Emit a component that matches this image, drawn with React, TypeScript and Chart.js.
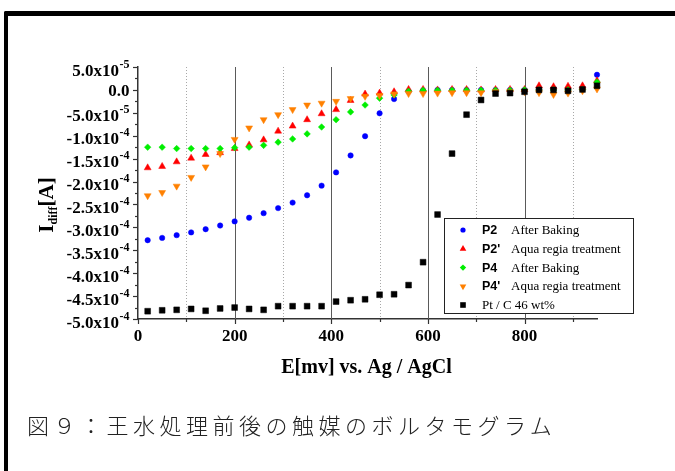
import React, { useEffect, useRef } from "react";
import { Chart, registerables } from "chart.js";

Chart.register(...registerables);

// ---- data (currents in units of 1e-4 A) ----
const UNIT = 1e-4;
const potentials = [20, 50, 80, 110, 140, 170, 200, 230, 260, 290, 320, 350, 380, 410, 440, 470, 500, 530, 560, 590, 620, 650, 680, 710, 740, 770, 800, 830, 860, 890, 920, 950];

const p2AfterBaking = [-3.28, -3.23, -3.17, -3.11, -3.04, -2.96, -2.87, -2.79, -2.69, -2.58, -2.46, -2.3, -2.09, -1.8, -1.43, -1.01, -0.51, -0.2, -0.03, -0.01, 0.0, 0.0, 0.0, 0.0, 0.0, 0.0, 0.0, 0.01, 0.02, 0.01, 0.02, 0.33];
const p2AquaRegia = [-1.7, -1.67, -1.57, -1.49, -1.41, -1.37, -1.28, -1.2, -1.09, -0.9, -0.79, -0.65, -0.52, -0.43, -0.23, -0.09, -0.07, -0.04, 0.01, 0.01, 0.0, 0.01, 0.01, 0.0, 0.01, 0.01, 0.01, 0.09, 0.07, 0.08, 0.09, 0.2];
const p4AfterBaking = [-1.25, -1.25, -1.28, -1.28, -1.28, -1.28, -1.26, -1.25, -1.21, -1.14, -1.07, -0.96, -0.81, -0.65, -0.48, -0.33, -0.18, -0.11, -0.03, -0.01, -0.01, -0.01, -0.01, -0.01, -0.01, -0.01, 0.0, 0.0, 0.0, 0.0, 0.01, 0.17];
const p4AquaRegia = [-2.31, -2.24, -2.1, -1.91, -1.68, -1.39, -1.08, -0.83, -0.65, -0.54, -0.43, -0.33, -0.29, -0.25, -0.19, -0.14, -0.12, -0.09, -0.08, -0.08, -0.07, -0.06, -0.06, -0.06, -0.04, -0.04, -0.04, -0.06, -0.1, -0.07, -0.02, 0.02];
const ptC46 = [-4.83, -4.81, -4.8, -4.78, -4.82, -4.77, -4.75, -4.78, -4.8, -4.72, -4.72, -4.72, -4.72, -4.62, -4.59, -4.57, -4.47, -4.46, -4.26, -3.76, -2.72, -1.39, -0.54, -0.22, -0.08, -0.07, -0.04, 0.0, 0.0, -0.02, 0.01, 0.09];

const legendNames = ["P2", "P2'", "P4", "P4'", ""];
const legendDescs = ["After Baking", "Aqua regia treatment", "After Baking", "Aqua regia treatment", "Pt / C 46 wt%"];

const xTickValues = [0, 100, 200, 300, 400, 500, 600, 700, 800, 900];
const xGridValues = [100, 200, 300, 400, 500, 600, 700, 800, 900];
const yTickValues = [5e-5, 0, -5e-5, -1e-4, -1.5e-4, -2e-4, -2.5e-4, -3e-4, -3.5e-4, -4e-4, -4.5e-4, -5e-4];
const yTickBase = ["5.0x10", "0.0", "-5.0x10", "-1.0x10", "-1.5x10", "-2.0x10", "-2.5x10", "-3.0x10", "-3.5x10", "-4.0x10", "-4.5x10", "-5.0x10"];
const yTickExp = ["-5", "", "-5", "-4", "-4", "-4", "-4", "-4", "-4", "-4", "-4", "-4"];

const xTitle = "E[mv] vs. Ag / AgCl";
const caption = "図９：王水処理前後の触媒のボルタモグラム";

const SERIF = "'Liberation Serif', 'Times New Roman', serif";
const SANS = "'Liberation Sans', Arial, sans-serif";

const seriesColors = ["#0000ff", "#ff0000", "#00ee00", "#ff8000", "#000000"];
const seriesStyles = ["circle", "triangle", "rectRot", "triangle", "rect"];

function toPoints(vals: number[]) {
  return potentials.map((p, i) => ({ x: p, y: vals[i] * UNIT }));
}

function drawMarker(ctx: CanvasRenderingContext2D, idx: number, x: number, y: number) {
  ctx.fillStyle = seriesColors[idx];
  ctx.beginPath();
  if (idx === 0) {
    ctx.arc(x, y, 2.6, 0, Math.PI * 2);
  } else if (idx === 1) {
    ctx.moveTo(x, y - 3.8);
    ctx.lineTo(x + 3.3, y + 2);
    ctx.lineTo(x - 3.3, y + 2);
  } else if (idx === 2) {
    ctx.moveTo(x, y - 3.2);
    ctx.lineTo(x + 3.2, y);
    ctx.lineTo(x, y + 3.2);
    ctx.lineTo(x - 3.2, y);
  } else if (idx === 3) {
    ctx.moveTo(x, y + 3.8);
    ctx.lineTo(x + 3.3, y - 2);
    ctx.lineTo(x - 3.3, y - 2);
  } else {
    ctx.rect(x - 2.8, y - 2.8, 5.6, 5.6);
  }
  ctx.closePath();
  ctx.fill();
}

const overlayPlugin = {
  id: "overlay",
  beforeDatasetsDraw(chart: any) {
    const { ctx, chartArea: a } = chart;
    const xs = chart.scales.x;
    const ys = chart.scales.y;
    ctx.save();
    // vertical grid lines
    for (const v of xGridValues) {
      const px = Math.round(xs.getPixelForValue(v)) + 0.5;
      const major = v % 200 === 0;
      ctx.beginPath();
      ctx.strokeStyle = major ? "#5a5a5a" : "#a8a8a8";
      ctx.lineWidth = 1;
      ctx.setLineDash(major ? [] : [1, 2]);
      ctx.moveTo(px, a.top);
      ctx.lineTo(px, a.bottom);
      ctx.stroke();
    }
    ctx.setLineDash([]);
    ctx.strokeStyle = "#333";
    ctx.lineWidth = 1.2;
    // x ticks
    for (const v of xTickValues) {
      const px = Math.round(xs.getPixelForValue(v)) + 0.5;
      const len = v % 200 === 0 ? 5 : 3;
      ctx.beginPath();
      ctx.moveTo(px, a.bottom);
      ctx.lineTo(px, a.bottom + len);
      ctx.stroke();
    }
    // y ticks (major + minor)
    for (let i = 0; i < yTickValues.length; i++) {
      const py = Math.round(ys.getPixelForValue(yTickValues[i])) + 0.5;
      ctx.beginPath();
      ctx.moveTo(a.left, py);
      ctx.lineTo(a.left - 5, py);
      ctx.stroke();
      if (i < yTickValues.length - 1) {
        const mid = (yTickValues[i] + yTickValues[i + 1]) / 2;
        const pm = Math.round(ys.getPixelForValue(mid)) + 0.5;
        ctx.beginPath();
        ctx.moveTo(a.left, pm);
        ctx.lineTo(a.left - 3, pm);
        ctx.stroke();
      }
    }
    ctx.restore();
  },
  afterDraw(chart: any) {
    const { ctx, chartArea: a } = chart;
    const ys = chart.scales.y;
    ctx.save();
    ctx.fillStyle = "#000";
    // y tick labels with superscript exponent
    const rightEdge = a.left - 8.5;
    ctx.textBaseline = "alphabetic";
    for (let i = 0; i < yTickValues.length; i++) {
      const py = ys.getPixelForValue(yTickValues[i]);
      const exp = yTickExp[i];
      ctx.font = `bold 12px ${SERIF}`;
      const ew = exp ? ctx.measureText(exp).width : 0;
      if (exp) {
        ctx.textAlign = "right";
        ctx.fillText(exp, rightEdge, py + 0.5);
      }
      ctx.font = `bold 17px ${SERIF}`;
      ctx.textAlign = "right";
      ctx.fillText(yTickBase[i], rightEdge - ew - (exp ? 0.5 : 0), py + (exp ? 8.6 : 5.8));
    }
    // y title (rotated) I_diff[A]
    ctx.save();
    ctx.translate(53, 205);
    ctx.rotate(-Math.PI / 2);
    ctx.font = `bold 21px ${SERIF}`;
    const wI = ctx.measureText("I").width;
    const wA = ctx.measureText("[A]").width;
    ctx.font = `bold 12px ${SERIF}`;
    const wd = ctx.measureText("diff").width;
    const total = wI + wd + wA;
    let cx = -total / 2;
    ctx.textAlign = "left";
    ctx.font = `bold 21px ${SERIF}`;
    ctx.fillText("I", cx, 0);
    cx += wI;
    ctx.font = `bold 12px ${SERIF}`;
    ctx.fillText("diff", cx, 4);
    cx += wd;
    ctx.font = `bold 21px ${SERIF}`;
    ctx.fillText("[A]", cx, 0);
    ctx.restore();
    // x title
    ctx.font = `bold 20px ${SERIF}`;
    ctx.textAlign = "center";
    ctx.fillText(xTitle, (a.left + a.right) / 2 - 1, 373);
    // legend
    const bx = 444.5, by = 218.5, bw = 189, bh = 95;
    ctx.fillStyle = "#fff";
    ctx.fillRect(bx, by, bw, bh);
    ctx.strokeStyle = "#222";
    ctx.lineWidth = 1;
    ctx.strokeRect(bx, by, bw, bh);
    const rowY = [230, 248.8, 267.6, 286.4, 305];
    for (let i = 0; i < legendDescs.length; i++) {
      const y = rowY[i];
      drawMarker(ctx, i, 463, y);
      ctx.fillStyle = "#000";
      ctx.textAlign = "left";
      ctx.textBaseline = "middle";
      if (legendNames[i]) {
        ctx.font = `bold 12.5px ${SANS}`;
        ctx.fillText(legendNames[i], 482, y + 0.5);
        ctx.font = `13px ${SERIF}`;
        ctx.fillText(legendDescs[i], 511, y + 0.5);
      } else {
        ctx.font = `13px ${SERIF}`;
        ctx.fillText(legendDescs[i], 482, y + 0.5);
      }
    }
    ctx.restore();
  },
};

export default function App() {
  const canvasRef = useRef<HTMLCanvasElement | null>(null);

  useEffect(() => {
    const canvas = canvasRef.current;
    if (!canvas) return;
    const seriesVals = [p2AfterBaking, p2AquaRegia, p4AfterBaking, p4AquaRegia, ptC46];
    const orders = [4, 3, 2, 1, 0];
    const radii = [2.7, 4, 3.3, 4, 4.1];
    const datasets = seriesVals.map((vals, i) => ({
      label: (legendNames[i] ? legendNames[i] + " " : "") + legendDescs[i],
      data: toPoints(vals),
      pointStyle: seriesStyles[i] as any,
      rotation: i === 3 ? 180 : 0,
      pointRadius: radii[i],
      backgroundColor: seriesColors[i],
      borderColor: seriesColors[i],
      pointBorderWidth: 0.5,
      showLine: false,
      order: orders[i],
      clip: false as any,
    }));

    const chart = new Chart(canvas, {
      type: "scatter",
      data: { datasets },
      options: {
        responsive: false,
        animation: false,
        events: [],
        layout: { padding: { left: 0, right: 78, top: 67, bottom: 0 } },
        plugins: { legend: { display: false }, tooltip: { enabled: false } },
        scales: {
          x: {
            type: "linear",
            min: 0,
            max: 950,
            afterFit: (s: any) => {
              s.height = 152;
            },
            afterBuildTicks: (s: any) => {
              s.ticks = xTickValues.map((v) => ({ value: v }));
            },
            ticks: {
              autoSkip: false,
              maxRotation: 0,
              padding: 7,
              color: "#000",
              font: { family: SERIF, size: 17, weight: "bold" },
              callback: (v: any) => (Number(v) % 200 === 0 ? String(v) : ""),
            },
            grid: { drawOnChartArea: false, drawTicks: false },
            border: { display: true, color: "#333", width: 1.5 },
          },
          y: {
            type: "linear",
            min: -5e-4,
            max: 5e-5,
            afterFit: (s: any) => {
              s.width = 138;
            },
            ticks: { display: false },
            grid: { drawOnChartArea: false, drawTicks: false },
            border: { display: true, color: "#333", width: 1.5 },
          },
        },
      },
      plugins: [overlayPlugin],
    });
    return () => chart.destroy();
  }, []);

  return (
    <div style={{ position: "fixed", left: 0, top: 0, width: 675, height: 471, background: "#fff", overflow: "hidden" }}>
      <div
        style={{
          position: "absolute",
          left: 4,
          top: 11,
          width: 800,
          height: 600,
          borderTop: "5px solid #000",
          borderLeft: "4px solid #000",
          borderTopLeftRadius: 2,
        }}
      />
      <canvas ref={canvasRef} width={675} height={471} style={{ position: "absolute", left: 0, top: 0 }} />
      <div
        style={{
          position: "absolute",
          left: 27,
          top: 412,
          fontFamily: "'Noto Sans CJK JP', sans-serif",
          fontWeight: 300,
          fontSize: 22,
          lineHeight: "24px",
          letterSpacing: 4.5,
          color: "#222",
          whiteSpace: "nowrap",
        }}
      >
        {caption}
      </div>
    </div>
  );
}
